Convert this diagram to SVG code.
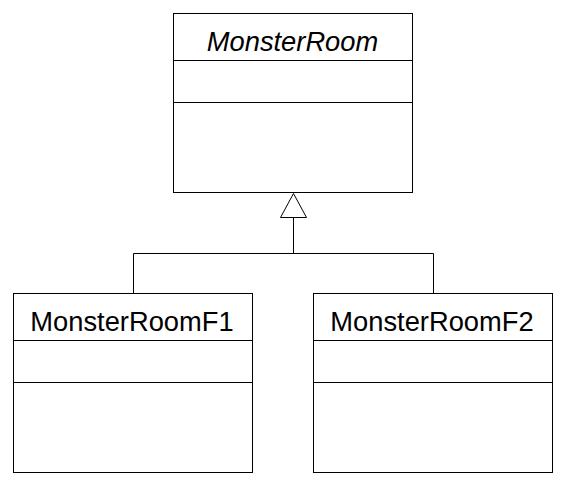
<svg xmlns="http://www.w3.org/2000/svg" width="566" height="485" viewBox="0 0 566 485">
<style>
.box{fill:#fff;stroke:#000;stroke-width:1}
.ln{stroke:#000;stroke-width:1;fill:none}
.t{font-family:"Liberation Sans",Arial,sans-serif;font-size:27.3px;fill:#000;text-anchor:middle}
.i{font-style:italic}
</style>
<rect width="566" height="485" fill="#fff"/>
<g id="MonsterRoom">
<rect class="box" x="173.5" y="13.5" width="239" height="179"/>
<line class="ln" x1="173.5" y1="60.5" x2="412.5" y2="60.5"/>
<line class="ln" x1="173.5" y1="102.5" x2="412.5" y2="102.5"/>
<text class="t i" x="292.5" y="51">MonsterRoom</text>
</g>
<g id="MonsterRoomF1">
<rect class="box" x="13.5" y="293.5" width="239" height="179"/>
<line class="ln" x1="13.5" y1="340.5" x2="252.5" y2="340.5"/>
<line class="ln" x1="13.5" y1="382.5" x2="252.5" y2="382.5"/>
<text class="t" x="132" y="331">MonsterRoomF1</text>
</g>
<g id="MonsterRoomF2">
<rect class="box" x="313.5" y="293.5" width="239" height="179"/>
<line class="ln" x1="313.5" y1="340.5" x2="552.5" y2="340.5"/>
<line class="ln" x1="313.5" y1="382.5" x2="552.5" y2="382.5"/>
<text class="t" x="432" y="331">MonsterRoomF2</text>
</g>
<g id="connectors">
<polyline class="ln" points="133.5,293.5 133.5,253.5 433.5,253.5 433.5,293.5"/>
<line class="ln" x1="293.5" y1="253.5" x2="293.5" y2="217.5"/>
<polygon class="box" points="293.5,193.5 306.5,217.5 280.5,217.5"/>
</g>
</svg>
